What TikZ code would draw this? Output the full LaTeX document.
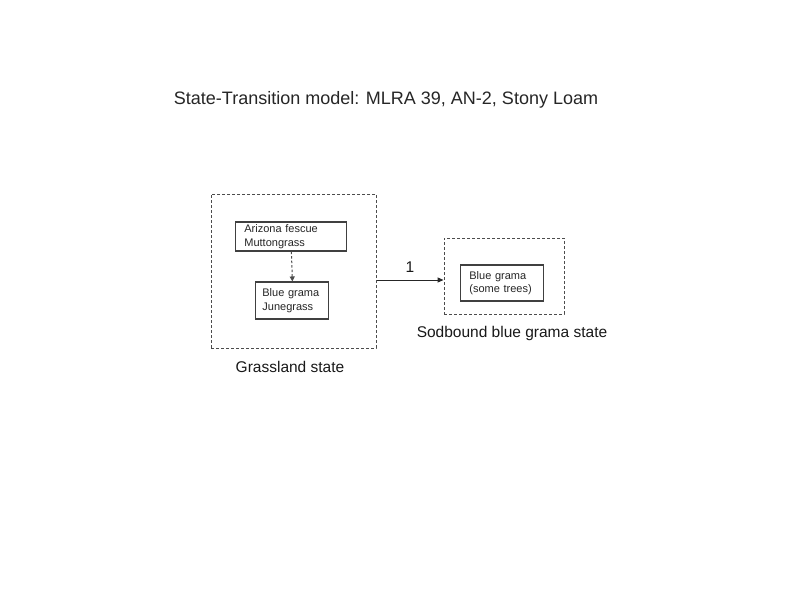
\documentclass[tikz,border=0pt]{standalone}
\usepackage{fontspec}
\setmainfont{Liberation Sans}
\usetikzlibrary{arrows.meta}
\begin{document}
\begin{tikzpicture}[x=1pt,y=-1pt,
  statebox/.style={draw=black!70, dashed, dash pattern=on 3pt off 2pt, line width=1pt, inner sep=0pt},
  plantbox/.style={draw=black!75, line width=1.1pt, inner sep=0pt, align=left,
     font=\fontsize{11}{13.5}\selectfont, text=black!85},
  label/.style={font=\fontsize{15.5}{18}\selectfont, text=black!90, inner sep=0pt},
  ttl/.style={font=\fontsize{18}{21}\selectfont, text=black!85, inner sep=0pt},
  conn/.style={-{Triangle[length=6pt,width=5pt]}, line width=1pt, draw=black!85},
  dconn/.style={-{Triangle[length=5pt,width=5pt]}, line width=1pt, draw=black!70, dash pattern=on 2.5pt off 2pt}
]
\useasboundingbox[fill=white] (0,0) rectangle (800,600);
\node[ttl] (title) at (386,100) {State-Transition model: MLRA 39, AN-2, Stony Loam};

\node[statebox, minimum width=165pt, minimum height=154pt] (grass) at (293.5,271) {};
\node[statebox, minimum width=120pt, minimum height=76pt] (sod) at (504,276) {};

\node[plantbox, minimum width=111pt, minimum height=29pt, text width=94pt] (az) at (291.4,236.5)
  {Arizona fescue\\Muttongrass};
\node[plantbox, minimum width=73pt, minimum height=37pt, text width=60pt] (bj) at (292.4,300.5)
  {Blue grama\\Junegrass};
\node[plantbox, minimum width=83pt, minimum height=36pt, text width=66pt] (bt) at (502.4,283)
  {Blue grama\\(some trees)};

\node[label] (gl) at (290,367) {Grassland state};
\node[label] (sl) at (512,333) {Sodbound blue grama state};
\node[label] (one) at (410,267) {1};

\coordinate (arry) at (0,280);
\draw[dconn] (az.south) -- (bj.north);
\draw[conn] (grass.east |- arry) -- (sod.west |- arry);
\end{tikzpicture}
\end{document}
